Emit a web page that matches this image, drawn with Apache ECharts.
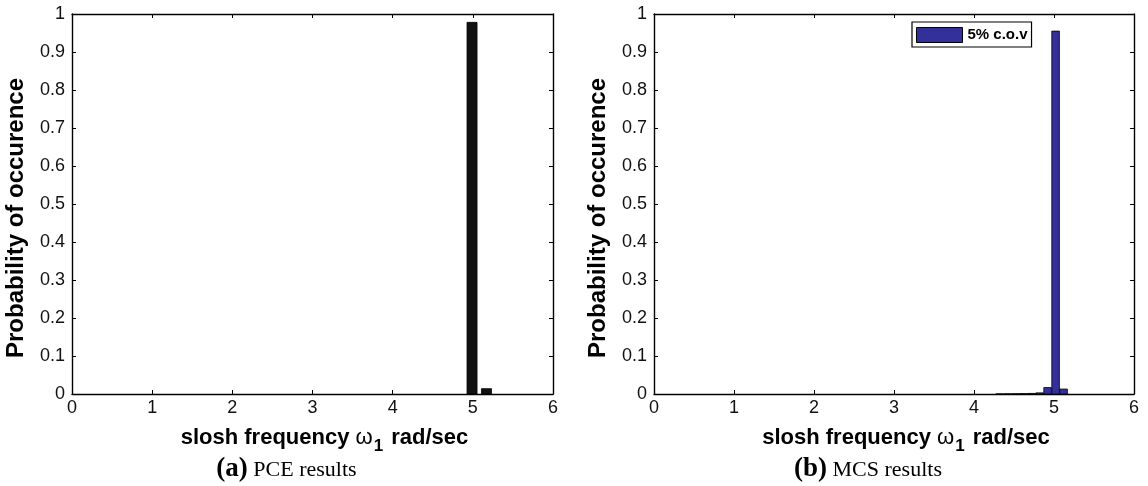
<!DOCTYPE html>
<html>
<head>
<meta charset="utf-8">
<script src="https://cdn.jsdelivr.net/npm/echarts@6/dist/echarts.min.js"></script>
<style>html,body{margin:0;padding:0;background:#fff;}#c{width:1148px;height:486px;}</style>
</head>
<body>
<div id="c"></div>
<script>
// ---- data ----
var xTicks = [0, 1, 2, 3, 4, 5, 6];
var yTicks = [0, 0.1, 0.2, 0.3, 0.4, 0.5, 0.6, 0.7, 0.8, 0.9, 1];
var pceCenters = [4.99, 5.17];
var pceValues = [0.978, 0.014];
var pceBinWidth = 0.125;
var mcsCenters = [4.32, 4.42, 4.52, 4.62, 4.72, 4.82, 4.92, 5.02, 5.12];
var mcsValues = [0.0002, 0.0004, 0.0006, 0.001, 0.0015, 0.003, 0.017, 0.955, 0.013];
var mcsBinWidth = 0.095;
var legendName = '5% c.o.v';
var yTitle = 'Probability of occurence';
var captions = [['(a)', 'PCE results'], ['(b)', 'MCS results']];

var chart = echarts.init(document.getElementById('c'), null, {renderer: 'canvas'});
var sans = 'Liberation Sans, Arial, sans-serif';
var serif = 'Liberation Serif, Times New Roman, serif';

function toData(c, v) { return c.map(function (x, i) { return [x, v[i]]; }); }

function makeRender(w) {
  return function (params, api) {
    var x = api.value(0), y = api.value(1);
    var p0 = api.coord([x - w / 2, 0]);
    var p1 = api.coord([x + w / 2, y]);
    return {
      type: 'rect',
      shape: {x: p0[0], y: p1[1], width: p1[0] - p0[0], height: p0[1] - p1[1]},
      style: api.style({fill: api.visual('color'), stroke: '#000', lineWidth: 0.8})
    };
  };
}

var grids = [
  {left: 72, top: 14, width: 481, height: 380},
  {left: 654, top: 14, width: 480, height: 380}
];

var xAxes = [], yAxes = [];
grids.forEach(function (g, i) {
  xAxes.push({
    type: 'value', gridIndex: i, min: xTicks[0], max: xTicks[xTicks.length - 1], interval: 1,
    position: 'bottom',
    axisLine: {show: true, onZero: false, lineStyle: {color: '#000', width: 1.4}},
    axisTick: {show: true, inside: true, length: 4, lineStyle: {color: '#000'}},
    axisLabel: {color: '#111', fontFamily: sans, fontSize: 18, margin: 5},
    splitLine: {show: false},
    name: '{b|slosh frequency }{w|ω}{s|1}{b| rad/sec}',
    nameLocation: 'middle', nameGap: 31,
    nameTextStyle: {
      padding: [0, 0, 0, 24],
      rich: {
        b: {fontFamily: sans, fontWeight: 'bold', fontSize: 22, color: '#000', lineHeight: 24},
        w: {fontFamily: sans, fontSize: 22, color: '#000', lineHeight: 24},
        s: {fontFamily: sans, fontWeight: 'bold', fontSize: 17, color: '#000', lineHeight: 24, padding: [16, 2, 0, 1]}
      }
    }
  });
  xAxes.push({
    type: 'value', gridIndex: i, min: xTicks[0], max: xTicks[xTicks.length - 1], interval: 1,
    position: 'top',
    axisLine: {show: true, onZero: false, lineStyle: {color: '#000', width: 1.4}},
    axisTick: {show: true, inside: true, length: 4, lineStyle: {color: '#000'}},
    axisLabel: {show: false}, splitLine: {show: false}
  });
  yAxes.push({
    type: 'value', gridIndex: i, min: yTicks[0], max: yTicks[yTicks.length - 1], interval: 0.1,
    position: 'left',
    axisLine: {show: true, onZero: false, lineStyle: {color: '#000', width: 1.4}},
    axisTick: {show: true, inside: true, length: 4, lineStyle: {color: '#000'}},
    axisLabel: {color: '#111', fontFamily: sans, fontSize: 18, margin: 7,
      formatter: function (v) { return String(Math.round(v * 10) / 10); }},
    splitLine: {show: false},
    name: yTitle, nameLocation: 'middle', nameGap: 44, nameRotate: 90,
    nameTextStyle: {fontFamily: sans, fontWeight: 'bold', fontSize: 24, color: '#000', padding: [0, 28, 0, 0]}
  });
  yAxes.push({
    type: 'value', gridIndex: i, min: yTicks[0], max: yTicks[yTicks.length - 1], interval: 0.1,
    position: 'right',
    axisLine: {show: true, onZero: false, lineStyle: {color: '#000', width: 1.4}},
    axisTick: {show: true, inside: true, length: 4, lineStyle: {color: '#000'}},
    axisLabel: {show: false}, splitLine: {show: false}
  });
});

var captionGraphics = captions.map(function (c, i) {
  var g = grids[i];
  return {
    type: 'text', x: g.left + g.width / 2 - 26, y: 469,
    style: {
      text: '{a|' + c[0] + '}{t| ' + c[1] + '}',
      align: 'center', verticalAlign: 'middle',
      rich: {
        a: {fontFamily: serif, fontWeight: 'bold', fontSize: 27, fill: '#000', lineHeight: 30},
        t: {fontFamily: serif, fontSize: 22, fill: '#000', lineHeight: 30, padding: [3, 0, 0, 0]}
      }
    }
  };
});

chart.setOption({
  animation: false,
  backgroundColor: '#fff',
  grid: grids,
  xAxis: xAxes,
  yAxis: yAxes,
  legend: {
    show: true,
    data: [{name: legendName, itemStyle: {color: '#33309a', borderColor: '#000', borderWidth: 1}}],
    left: 912, top: 22,
    icon: 'rect', itemWidth: 46, itemHeight: 15, itemGap: 6,
    padding: [5, 4, 4, 4],
    borderColor: '#000', borderWidth: 1.2, backgroundColor: '#fff',
    textStyle: {fontFamily: sans, fontWeight: 'bold', fontSize: 15, color: '#000'},
    selectedMode: false
  },
  series: [
    {
      type: 'custom', name: 'PCE', xAxisIndex: 0, yAxisIndex: 0,
      itemStyle: {color: '#111'},
      renderItem: makeRender(pceBinWidth),
      data: toData(pceCenters, pceValues)
    },
    {
      type: 'custom', name: legendName, xAxisIndex: 2, yAxisIndex: 2,
      itemStyle: {color: '#33309a'},
      renderItem: makeRender(mcsBinWidth),
      data: toData(mcsCenters, mcsValues)
    }
  ],
  graphic: captionGraphics
});
</script>
</body>
</html>
